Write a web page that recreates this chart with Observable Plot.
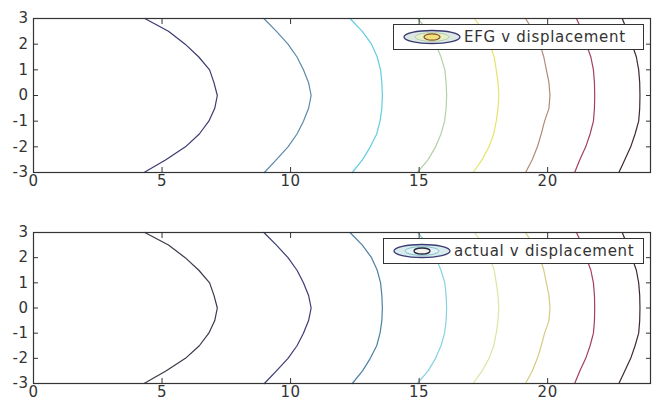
<!DOCTYPE html>
<html>
<head>
<meta charset="utf-8">
<script src="https://cdn.jsdelivr.net/npm/d3@7"></script>
<script src="https://cdn.jsdelivr.net/npm/@observablehq/plot@0.6"></script>
<style>
  body { margin: 0; background: #fff; }
  #wrap { position: relative; width: 653px; height: 398px; overflow: hidden; background: #fff; }
  .leg { position: absolute; box-sizing: border-box; border: 1.3px solid #333; background: #fff;
         font-family: "DejaVu Sans", sans-serif; font-size: 15px; letter-spacing: 0.7px; color: #333;
         display: flex; align-items: center; }
  .leg svg { flex: none; }
</style>
</head>
<body>
<div id="wrap"></div>
<script>
// y positions at which contour vertices were read
const yPts = [3, 2.5, 2, 1.5, 1, 0.5, 0, -0.5, -1, -1.5, -2, -2.5, -3];

// x positions of each contour line (same shapes in both panels)
const c1 = [4.33, 5.25, 5.9, 6.43, 6.85, 7.02, 7.15, 7.05, 6.82, 6.45, 5.91, 5.15, 4.3];
const c2 = [8.96, 9.45, 9.9, 10.25, 10.5, 10.7, 10.8, 10.7, 10.5, 10.25, 9.9, 9.45, 8.98];
const c3 = [12.31, 12.79, 13.15, 13.37, 13.5, 13.55, 13.57, 13.55, 13.48, 13.35, 13.1, 12.8, 12.4];
const c4 = [14.95, 15.35, 15.65, 15.85, 16.0, 16.05, 16.07, 16.05, 15.99, 15.85, 15.64, 15.35, 14.93];
const c5 = [17.16, 17.5, 17.75, 17.92, 18.0, 18.07, 18.1, 18.07, 18.0, 17.9, 17.72, 17.45, 17.1];
const c6 = [19.14, 19.45, 19.7, 19.85, 19.95, 20.05, 20.09, 20.05, 19.88, 19.75, 19.6, 19.4, 19.14];
const c7 = [21.12, 21.35, 21.5, 21.68, 21.78, 21.82, 21.83, 21.82, 21.78, 21.65, 21.48, 21.25, 21.05];
const c8 = [22.9, 23.1, 23.28, 23.45, 23.54, 23.58, 23.59, 23.58, 23.54, 23.4, 23.23, 23.0, 22.77];
const contours = [c1, c2, c3, c4, c5, c6, c7, c8];

const topColors = ["#3a3a70", "#5a8aaa", "#62cde0", "#b4d0a8", "#e4e46a", "#b08c78", "#a43e62", "#3e2838"];
const botColors = ["#3a3a48", "#3c3c74", "#4c80a4", "#86d2de", "#d8e6a2", "#d4cc82", "#a43e5c", "#3e2838"];

const xTicks = [0, 5, 10, 15, 20];
const yTicks = [-3, -2, -1, 0, 1, 2, 3];
const xDomain = [0, 24];
const yDomain = [-3, 3];

const topLabel = "EFG v displacement";
const botLabel = "actual v displacement";

const rows = [];
contours.forEach((xs, i) => xs.forEach((x, j) => rows.push({level: i, x, y: yPts[j]})));

const fmt = d => String(d);

function panel(colors, height, mt, mb) {
  return Plot.plot({
    width: 653, height,
    marginLeft: 33, marginRight: 3, marginTop: mt, marginBottom: mb,
    style: {fontFamily: "DejaVu Sans, sans-serif", fontSize: "15px", color: "#333", overflow: "visible"},
    x: {domain: xDomain},
    y: {domain: yDomain},
    color: {type: "ordinal", domain: d3.range(contours.length), range: colors},
    marks: [
      Plot.line(rows, {x: "x", y: "y", z: "level", stroke: "level", strokeWidth: 1.2, curve: "linear"}),
      Plot.frame({stroke: "#333", strokeWidth: 1.2}),
      Plot.axisX({anchor: "bottom", ticks: xTicks, tickFormat: fmt, tickSize: -5, tickPadding: 8, label: null, stroke: "#333"}),
      Plot.axisX({anchor: "top", ticks: xTicks, tickSize: -5, tickFormat: () => "", label: null, stroke: "#333"}),
      Plot.axisY({anchor: "left", ticks: yTicks, tickFormat: fmt, tickSize: -5, tickPadding: 10, label: null, stroke: "#333"}),
      Plot.axisY({anchor: "right", ticks: yTicks, tickSize: -5, tickFormat: () => "", label: null, stroke: "#333"})
    ]
  });
}

const wrap = document.getElementById("wrap");
const p1 = panel(topColors, 200, 18, 28);
const p2 = panel(botColors, 198, 32, 15);
p1.style.display = "block";
p2.style.display = "block";
wrap.appendChild(p1);
wrap.appendChild(p2);
wrap.querySelectorAll("text").forEach(t => t.style.letterSpacing = "0.5px");

function legend(left, top, w, h, iconSvg, label) {
  const d = document.createElement("div");
  d.className = "leg";
  Object.assign(d.style, {left: left + "px", top: top + "px", width: w + "px", height: h + "px"});
  d.innerHTML = iconSvg + "<span>" + label + "</span>";
  wrap.appendChild(d);
}
const iconTop = `<svg width="70" height="20" viewBox="0 0 70 20">
  <ellipse cx="38" cy="10" rx="28" ry="6.5" fill="#dde7e6" stroke="#3a3a70" stroke-width="1.3"/>
  <ellipse cx="38" cy="10" rx="17" ry="4.3" fill="#e6efc8" stroke="#b4d0a8" stroke-width="1"/>
  <ellipse cx="38" cy="10" rx="8" ry="3.2" fill="#f0e27a" stroke="#8a5030" stroke-width="1.3"/>
</svg>`;
const iconBot = `<svg width="70" height="20" viewBox="0 0 70 20">
  <ellipse cx="38" cy="10" rx="28" ry="6.5" fill="#d8ecee" stroke="#3c3c74" stroke-width="1.3"/>
  <ellipse cx="38" cy="10" rx="17" ry="4.3" fill="#e4f3f3" stroke="#86c2ce" stroke-width="1"/>
  <ellipse cx="38" cy="10" rx="8" ry="3" fill="#f4f4ee" stroke="#2a2a44" stroke-width="1.3"/>
</svg>`;
legend(393, 24, 251, 26, iconTop, topLabel);
legend(383, 238, 261, 26, iconBot, botLabel);
</script>
</body>
</html>
